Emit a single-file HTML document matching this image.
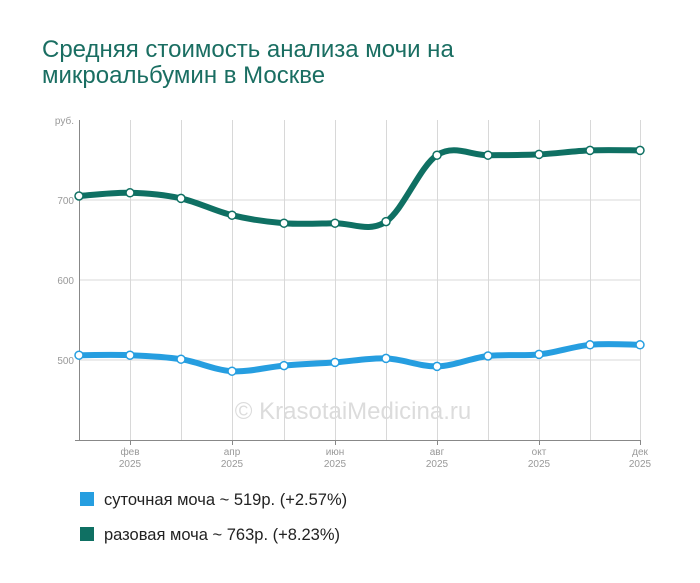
<!DOCTYPE html>
<html><head><meta charset="utf-8"><style>
body{margin:0;background:#fff;width:700px;height:583px;overflow:hidden;font-family:"Liberation Sans",sans-serif}
.t{position:absolute;left:42px;top:37px;font-size:24px;color:#1a6e62;line-height:26px}
</style></head><body>
<div class="t">Средняя стоимость анализа мочи на<br>микроальбумин в Москве</div>
<svg id="s" width="700" height="583" style="position:absolute;left:0;top:0" xmlns="http://www.w3.org/2000/svg" font-family="Liberation Sans, sans-serif">
<g stroke="#d8d8d8" stroke-width="1">
<line x1="79" y1="200" x2="640" y2="200"/><line x1="79" y1="280" x2="640" y2="280"/><line x1="79" y1="360" x2="640" y2="360"/>
<line x1="130.5" y1="120" x2="130.5" y2="440"/><line x1="181.5" y1="120" x2="181.5" y2="440"/><line x1="232.5" y1="120" x2="232.5" y2="440"/><line x1="284.5" y1="120" x2="284.5" y2="440"/><line x1="335.5" y1="120" x2="335.5" y2="440"/><line x1="386.5" y1="120" x2="386.5" y2="440"/><line x1="437.5" y1="120" x2="437.5" y2="440"/><line x1="488.5" y1="120" x2="488.5" y2="440"/><line x1="539.5" y1="120" x2="539.5" y2="440"/><line x1="590.5" y1="120" x2="590.5" y2="440"/><line x1="640.5" y1="120" x2="640.5" y2="440"/>
</g>
<g stroke="#888" stroke-width="1"><line x1="79.5" y1="120" x2="79.5" y2="441"/><line x1="75" y1="440.5" x2="641" y2="440.5"/>
<line x1="130.5" y1="440" x2="130.5" y2="445"/><line x1="232.5" y1="440" x2="232.5" y2="445"/><line x1="335.5" y1="440" x2="335.5" y2="445"/><line x1="437.5" y1="440" x2="437.5" y2="445"/><line x1="539.5" y1="440" x2="539.5" y2="445"/><line x1="640.5" y1="440" x2="640.5" y2="445"/></g>
<g fill="#999" font-size="10" text-anchor="end"><text x="74" y="124">руб.</text><text x="74" y="204">700</text><text x="74" y="284">600</text><text x="74" y="364">500</text></g>
<g fill="#999" font-size="10" text-anchor="middle">
<text x="130" y="455">фев</text><text x="130" y="467">2025</text>
<text x="232" y="455">апр</text><text x="232" y="467">2025</text>
<text x="335" y="455">июн</text><text x="335" y="467">2025</text>
<text x="437" y="455">авг</text><text x="437" y="467">2025</text>
<text x="539" y="455">окт</text><text x="539" y="467">2025</text>
<text x="640" y="455">дек</text><text x="640" y="467">2025</text></g>
<text x="353" y="419" text-anchor="middle" fill="#dcdcdc" font-size="24">© KrasotaiMedicina.ru</text>
<g id="g"></g>
<rect x="80" y="492" width="14" height="14" fill="#269ee0"/>
<text x="104" y="505" font-size="16.5" fill="#222">суточная моча ~ 519р. (+2.57%)</text>
<rect x="80" y="527" width="14" height="14" fill="#0f7063"/>
<text x="104" y="540" font-size="16.5" fill="#222">разовая моча ~ 763р. (+8.23%)</text>
</svg>
<script>
var xs=[79,130,181,232,284,335,386,437,488,539,590,640];
function y(v){return 760-0.8*v}
var A=[705,709,702,681,671,671,673,756,756,757,762,762];
var B=[506,506,501,486,493,497,502,492,505,507,519,519];
var g=document.getElementById('g'),N='http://www.w3.org/2000/svg';
function draw(d,c){
 var p=d.map(function(v,i){return[xs[i],y(v)]});
 var s='M'+p[0][0]+','+p[0][1];
 for(var i=0;i<p.length-1;i++){
  var p0=p[i-1]||p[i],p1=p[i],p2=p[i+1],p3=p[i+2]||p2;
  s+=' C'+(p1[0]+(p2[0]-p0[0])/6)+','+(p1[1]+(p2[1]-p0[1])/6)+' '+(p2[0]-(p3[0]-p1[0])/6)+','+(p2[1]-(p3[1]-p1[1])/6)+' '+p2[0]+','+p2[1];
 }
 var e=document.createElementNS(N,'path');e.setAttribute('d',s);e.setAttribute('fill','none');e.setAttribute('stroke',c);e.setAttribute('stroke-width','6');e.setAttribute('stroke-linecap','round');g.appendChild(e);
 p.forEach(function(q){var k=document.createElementNS(N,'circle');k.setAttribute('cx',q[0]);k.setAttribute('cy',q[1]);k.setAttribute('r','4');k.setAttribute('fill','#fff');k.setAttribute('stroke',c);k.setAttribute('stroke-width','1.5');g.appendChild(k);});
}
draw(B,'#269ee0');draw(A,'#0f7063');
</script>
</body></html>
